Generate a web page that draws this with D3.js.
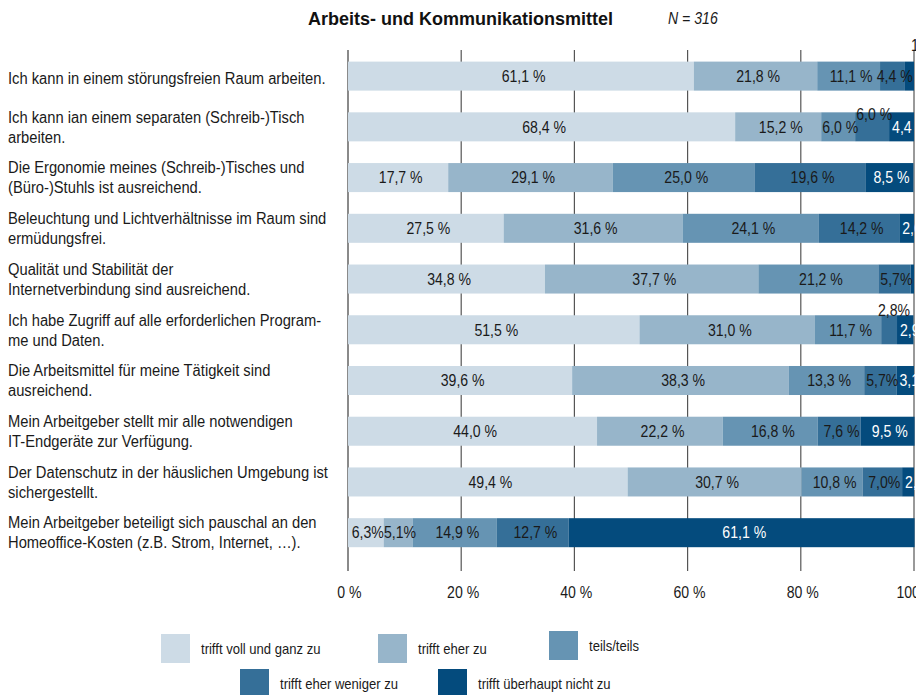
<!DOCTYPE html>
<html>
<head>
<meta charset="utf-8">
<script src="https://cdn.jsdelivr.net/npm/d3@7"></script>
<style>
  body { margin: 0; background: #fff; }
  svg { display: block; }
  text { font-family: "Liberation Sans", Arial, sans-serif; }
</style>
</head>
<body>
<svg id="chart" width="916" height="695"></svg>
<script>
// Survey statements (line breaks as they wrap on the left)
const categories = [
  "Ich kann in einem störungsfreien Raum arbeiten.",
  "Ich kann ian einem separaten (Schreib-)Tisch\narbeiten.",
  "Die Ergonomie meines (Schreib-)Tisches und\n(Büro-)Stuhls ist ausreichend.",
  "Beleuchtung und Lichtverhältnisse im Raum sind\nermüdungsfrei.",
  "Qualität und Stabilität der\nInternetverbindung sind ausreichend.",
  "Ich habe Zugriff auf alle erforderlichen Program-\nme und Daten.",
  "Die Arbeitsmittel für meine Tätigkeit sind\nausreichend.",
  "Mein Arbeitgeber stellt mir alle notwendigen\nIT-Endgeräte zur Verfügung.",
  "Der Datenschutz in der häuslichen Umgebung ist\nsichergestellt.",
  "Mein Arbeitgeber beteiligt sich pauschal an den\nHomeoffice-Kosten (z.B. Strom, Internet, …)."
];

const responses = [
  "trifft voll und ganz zu",
  "trifft eher zu",
  "teils/teils",
  "trifft eher weniger zu",
  "trifft überhaupt nicht zu"
];

// Shares in percent, one array per answer option
const vollUndGanz     = [61.1, 68.4, 17.7, 27.5, 34.8, 51.5, 39.6, 44.0, 49.4, 6.3];
const eherZu          = [21.8, 15.2, 29.1, 31.6, 37.7, 31.0, 38.3, 22.2, 30.7, 5.1];
const teilsTeils      = [11.1, 6.0, 25.0, 24.1, 21.2, 11.7, 13.3, 16.8, 10.8, 14.9];
const eherWeniger     = [4.4, 6.0, 19.6, 14.2, 5.7, 2.8, 5.7, 7.6, 7.0, 12.7];
const ueberhauptNicht = [1.6, 4.4, 8.5, 2.6, 0.6, 2.9, 3.1, 9.5, 2.1, 61.1];

const xTicks = [0, 20, 40, 60, 80, 100];

const title = "Arbeits- und Kommunikationsmittel";
const sampleNote = "N = 316";

const colors = ["#cddbe6", "#97b5ca", "#6694b3", "#356f98", "#044b7d"];

// Labels written without the space before "%" (row, segment)
const compactLabels = [[4, 3], [5, 3], [6, 3], [8, 3], [9, 0], [9, 1]];
// Labels lifted off their segment (row, segment, dx, dy)
const liftedLabels = [[0, 4, 6, -31], [1, 3, 0, -13], [5, 3, 3, -20]];

const svg = d3.select("#chart");
const ink = "#1a1a1a";

// squeeze text horizontally a little (narrow type look)
function squeeze(sel, k) {
  sel.each(function () {
    const w = this.getComputedTextLength();
    d3.select(this).attr("textLength", w * k).attr("lengthAdjust", "spacingAndGlyphs");
  });
}

const keys = responses;
const series = [vollUndGanz, eherZu, teilsTeils, eherWeniger, ueberhauptNicht];
const rows = categories.map((c, i) => {
  const o = { category: c, index: i };
  keys.forEach((k, j) => { o[k] = series[j][i]; });
  return o;
});
const stacked = d3.stack().keys(keys)(rows);

const x = d3.scaleLinear().domain([0, 100]).range([348, 914]);
const y = d3.scaleBand().domain(d3.range(categories.length))
  .range([61.6, 547.2]).paddingInner(0.428).paddingOuter(0);

const gridTop = 50, gridBottom = 571;

// gridlines / ticks
svg.append("g").selectAll("line").data(xTicks).join("line")
  .attr("x1", d => x(d)).attr("x2", d => x(d))
  .attr("y1", gridTop).attr("y2", gridBottom)
  .attr("stroke", d => d === 0 ? "#8a8a8a" : "#555")
  .attr("stroke-width", d => d === 0 ? 2 : 1.2);

// bars
const layer = svg.append("g").selectAll("g").data(stacked).join("g")
  .attr("fill", (d, i) => colors[i]);
layer.selectAll("rect").data(d => d.map(p => ({ p, key: d.key, seg: d.index }))).join("rect")
  .attr("x", d => x(d.p[0]))
  .attr("y", d => y(d.p.data.index))
  .attr("width", d => x(d.p[1]) - x(d.p[0]))
  .attr("height", y.bandwidth());

// value labels
const fmt = (v, compact) => v.toFixed(1).replace(".", ",") + (compact ? "%" : " %");
const labelData = [];
stacked.forEach((s, j) => {
  s.forEach(p => {
    const r = p.data.index;
    const v = p.data[s.key];
    if (v < 1) return;
    const compact = compactLabels.some(c => c[0] === r && c[1] === j);
    const lift = liftedLabels.find(c => c[0] === r && c[1] === j);
    labelData.push({ r, j, v, x0: x(p[0]), x1: x(p[1]), text: fmt(v, compact), lift });
  });
});

const vFont = 16, vSqueeze = 0.88;
const vLabels = svg.append("g").selectAll("text").data(labelData).join("text")
  .attr("font-size", vFont)
  .style("fill", d => (d.j === 4 && !d.lift) ? "#ffffff" : ink)
  .text(d => d.text);
squeeze(vLabels, vSqueeze);
vLabels.each(function (d) {
  const w = this.getComputedTextLength() * vSqueeze;
  const cy = y(d.r) + y.bandwidth() / 2;
  let tx = (d.x0 + d.x1) / 2 - w / 2;
  let ty = cy + vFont * 0.36;
  if (d.lift) {
    if (d.j === 4) tx = d.x0 + d.lift[2];
    else tx += d.lift[2];
    ty += d.lift[3];
  } else if (d.j === 4 && w > d.x1 - d.x0) {
    tx = d.x0 + 3;
  }
  d3.select(this).attr("x", tx).attr("y", ty);
});

// category labels
const catFont = 16, lineH = 20;
const catG = svg.append("g");
categories.forEach((c, i) => {
  const lines = c.split("\n");
  const cy = y(i) + y.bandwidth() / 2;
  const first = cy - (lines.length - 1) * lineH / 2 + catFont * 0.36;
  lines.forEach((ln, k) => {
    const t = catG.append("text")
      .attr("x", 8).attr("y", first + k * lineH + (lines.length === 1 ? 2 : 0))
      .attr("font-size", catFont).style("fill", ink).text(ln);
    squeeze(t, 0.92);
  });
});

// x tick labels
const tl = svg.append("g").selectAll("text").data(xTicks).join("text")
  .attr("font-size", 16).style("fill", ink).text(d => d + " %");
squeeze(tl, 0.88);
tl.each(function (d) {
  const w = this.getComputedTextLength() * 0.88;
  d3.select(this).attr("x", x(d) - w / 2).attr("y", 598);
});

// title
const tt = svg.append("text").attr("x", 308).attr("y", 25)
  .attr("font-size", 19).attr("font-weight", "bold").style("fill", "#111").text(title);
squeeze(tt, 305 / tt.node().getComputedTextLength());
const nt = svg.append("text").attr("x", 668).attr("y", 24)
  .attr("font-size", 16).attr("font-style", "italic").style("fill", ink).text(sampleNote);
squeeze(nt, 0.88);

// legend, two rows
const legendPos = [[161, 634], [378, 634], [549, 631], [240, 669], [438, 669]];
const lg = svg.append("g").selectAll("g").data(responses).join("g")
  .attr("transform", (d, i) => `translate(${legendPos[i][0]},${legendPos[i][1]})`);
lg.append("rect").attr("width", 29).attr("height", 29).attr("fill", (d, i) => colors[i]);
const lt = lg.append("text").attr("x", 40).attr("y", 20)
  .attr("font-size", 15).style("fill", ink).text(d => d);
squeeze(lt, 0.87);
</script>
</body>
</html>
